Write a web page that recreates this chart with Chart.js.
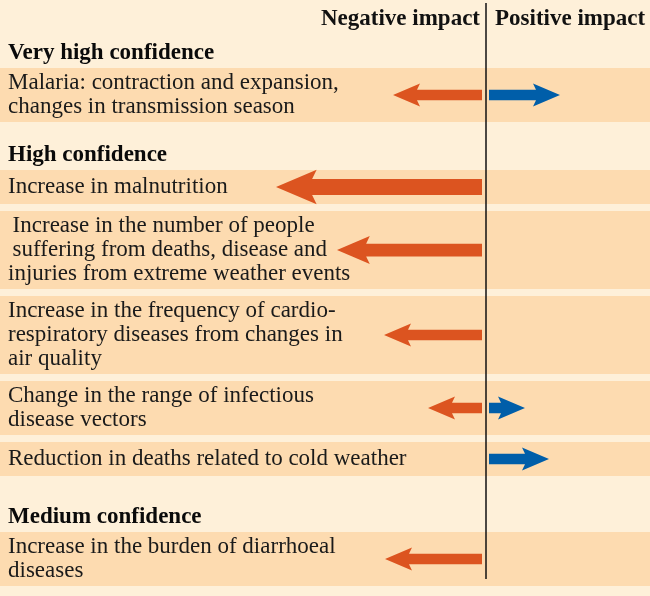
<!DOCTYPE html>
<html>
<head>
<meta charset="utf-8">
<script src="https://cdn.jsdelivr.net/npm/chart.js@4"></script>
<style>
  html, body { margin: 0; padding: 0; background: #fef0d9; }
  #wrap { width: 650px; height: 596px; position: relative; }
</style>
</head>
<body>
<div id="wrap"><canvas id="impactChart"></canvas></div>
<script>
// data
const columnTitles = ['Negative impact', 'Positive impact'];
const groupTitles = ['Very high confidence', 'High confidence', 'Medium confidence'];
const impactLabels = [
  ['Malaria: contraction and expansion,', 'changes in transmission season'],
  ['Increase in malnutrition'],
  ['\u2009Increase in the number of people', '\u2009suffering from deaths, disease and', 'injuries from extreme weather events'],
  ['Increase in the frequency of cardio-', 'respiratory diseases from changes in', 'air quality'],
  ['Change in the range of infectious', 'disease vectors'],
  ['Reduction in deaths related to cold weather'],
  ['Increase in the burden of diarrhoeal', 'diseases']
];
const impactGroup = [0, 1, 1, 1, 1, 1, 2];
const negativeImpact = [-9.3, -21.0, -14.9, -10.2, -5.8, null, -10.1];
const positiveImpact = [7.4, null, null, null, 3.9, 6.3, null];

// layout, y axis counts in pixels from the top
const CHART_H = 596;
const TITLE_BASELINE = 25;
const GROUP_GAP = [68, 48, 56];
const ROW_GAP = 7;
const LINE_H = 24;

const rows = [];
const labelRows = [];
let y = 0, lastGroup = -1;
impactLabels.forEach((lines, i) => {
  const g = impactGroup[i];
  if (g !== lastGroup) {
    y += GROUP_GAP[g];
    labelRows.push({value: y - 15, lines: [groupTitles[g]], bold: true});
    lastGroup = g;
  } else {
    y += ROW_GAP;
  }
  const h = Math.max(34, lines.length * LINE_H + 6);
  rows.push({top: y, bottom: y + h, mid: y + h / 2});
  labelRows.push({value: y + h / 2, lines: lines, bold: false});
  y += h;
});

const toPoints = vals => vals.map((v, i) => v == null ? null : {x: v, y: rows[i].mid}).filter(p => p);

const SERIF = "'Liberation Serif', 'Times New Roman', serif";

const impactPlugin = {
  id: 'impactArrows',
  beforeDraw(chart) {
    const {ctx, width, height} = chart;
    const ys = chart.scales.y;
    ctx.save();
    ctx.fillStyle = '#fef0d9';
    ctx.fillRect(0, 0, width, height);
    ctx.fillStyle = '#fddbb0';
    rows.forEach(r => {
      const t = ys.getPixelForValue(r.top);
      const b = ys.getPixelForValue(r.bottom);
      ctx.fillRect(0, t, width, b - t);
    });

    // row and group labels
    ctx.textAlign = 'left';
    ctx.textBaseline = 'middle';
    labelRows.forEach(r => {
      ctx.font = (r.bold ? 'bold ' : '') + '23px ' + SERIF;
      ctx.fillStyle = r.bold ? '#0a0a0a' : '#1a1a1a';
      const mid = ys.getPixelForValue(r.value);
      r.lines.forEach((line, k) => {
        ctx.fillText(line, 8, mid + (k - (r.lines.length - 1) / 2) * LINE_H);
      });
    });
    ctx.restore();
  },
  beforeDatasetDraw() {
    return false; // bars are drawn as arrows below
  },
  afterDatasetsDraw(chart) {
    const {ctx} = chart;
    const xs = chart.scales.x, ys = chart.scales.y;
    const x0 = xs.getPixelForValue(0);
    ctx.save();

    // zero line
    ctx.strokeStyle = '#111';
    ctx.lineWidth = 1.5;
    ctx.beginPath();
    ctx.moveTo(x0, ys.getPixelForValue(3));
    ctx.lineTo(x0, ys.getPixelForValue(rows[rows.length - 1].bottom - 7));
    ctx.stroke();

    // column titles
    ctx.fillStyle = '#111';
    ctx.font = 'bold 23px ' + SERIF;
    ctx.textBaseline = 'alphabetic';
    ctx.textAlign = 'right';
    ctx.fillText(columnTitles[0], x0 - 6, ys.getPixelForValue(TITLE_BASELINE));
    ctx.textAlign = 'left';
    ctx.fillText(columnTitles[1], x0 + 9, ys.getPixelForValue(TITLE_BASELINE));

    // arrows from bar geometry
    chart.data.datasets.forEach((ds, di) => {
      const meta = chart.getDatasetMeta(di);
      ctx.fillStyle = ds.backgroundColor;
      meta.data.forEach(bar => {
        const dir = bar.x < bar.base ? -1 : 1;
        const start = bar.base + (dir < 0 ? -4 : 3);
        const len = Math.abs(bar.x - start);
        const s = Math.max(1, 1 + (len - 100) / 210);
        const shaft = 10.5 * s / 2, head = 23 * s / 2, headLen = 27 * s;
        const barb = bar.x - dir * headLen;
        const neck = bar.x - dir * (headLen - 3 * s);
        ctx.beginPath();
        ctx.moveTo(start, bar.y - shaft);
        ctx.lineTo(neck, bar.y - shaft);
        ctx.lineTo(barb, bar.y - head);
        ctx.lineTo(bar.x, bar.y);
        ctx.lineTo(barb, bar.y + head);
        ctx.lineTo(neck, bar.y + shaft);
        ctx.lineTo(start, bar.y + shaft);
        ctx.closePath();
        ctx.fill();
      });
    });
    ctx.restore();
  }
};

new Chart(document.getElementById('impactChart'), {
  type: 'bar',
  data: {
    datasets: [
      {label: 'Negative impact', data: toPoints(negativeImpact), backgroundColor: '#dc5420'},
      {label: 'Positive impact', data: toPoints(positiveImpact), backgroundColor: '#005ea9'}
    ]
  },
  options: {
    indexAxis: 'y',
    responsive: true,
    maintainAspectRatio: false,
    animation: false,
    grouped: false,
    barThickness: 10,
    layout: {padding: 0},
    plugins: {legend: {display: false}, tooltip: {enabled: false}},
    scales: {
      x: {type: 'linear', display: false, min: -48.6, max: 16.4},
      y: {type: 'linear', display: false, reverse: true, min: 0, max: CHART_H, offset: false}
    }
  },
  plugins: [impactPlugin]
});
</script>
</body>
</html>
